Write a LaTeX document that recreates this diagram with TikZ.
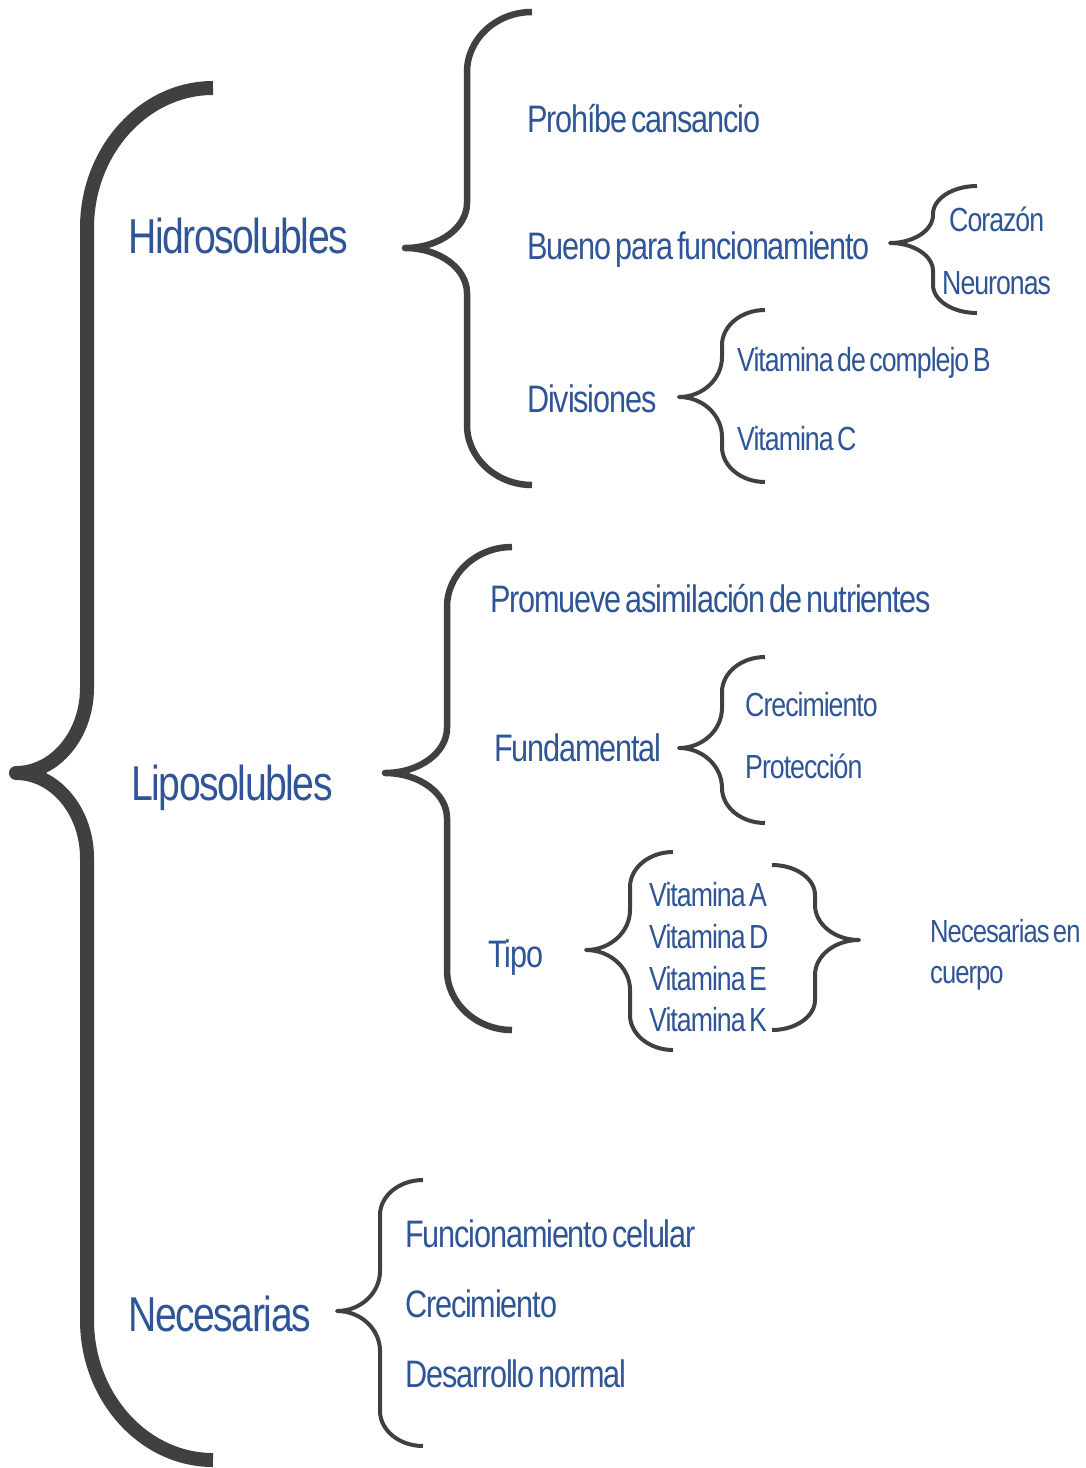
\documentclass[tikz,border=0pt]{standalone}
\usepackage{fontspec}
\setmainfont{Liberation Sans}[FakeStretch=0.8, LetterSpace=-3, WordSpace=0.55]
\definecolor{txtblue}{HTML}{2F5597}
\definecolor{bracegray}{HTML}{404040}
\tikzset{
  lone/.style={font=\fontsize{49}{58}\selectfont, text=txtblue, anchor=base west, inner sep=0pt},
  ltwo/.style={font=\fontsize{38.3}{46}\selectfont, text=txtblue, anchor=base west, inner sep=0pt},
  lthree/.style={font=\fontsize{33.4}{40}\selectfont, text=txtblue, anchor=base west, inner sep=0pt},
  bracestroke/.style={draw=bracegray, line cap=butt, line join=round}
}
% #1 width, #2 xend, #3 xv, #4 xtip, #5 ytop, #6 ymid, #7 ybot, #8 end radius, #9 mid radius
\newcommand\drawmybrace[9]{%
  \draw[bracestroke, line width=#1pt] (#2,#5)
    .. controls ({#2-0.55*(#2-#3)},#5) and (#3,{#5+0.45*#8}) .. (#3,{#5+#8})
    -- (#3,{#6-#9})
    .. controls (#3,{#6-0.45*#9}) and ({#4+0.55*(#3-#4)},#6) .. (#4,#6)
    .. controls ({#4+0.55*(#3-#4)},#6) and (#3,{#6+0.45*#9}) .. (#3,{#6+#9})
    -- (#3,{#7-#8})
    .. controls (#3,{#7-0.45*#8}) and ({#2-0.55*(#2-#3)},#7) .. (#2,#7);
}
\begin{document}
\begin{tikzpicture}[x=1pt, y=-1pt]
\useasboundingbox[fill=white] (0,0) rectangle (1086,1468);

% braces
\drawmybrace{14}{213}{87}{16}{88}{773}{1460}{140}{85}
\drawmybrace{6.5}{532}{467}{405}{12}{248}{485}{60}{45}
\drawmybrace{4}{977}{933}{890}{186}{243}{313}{28}{28}
\drawmybrace{4}{765}{722}{679}{310}{397}{482}{35}{40}
\drawmybrace{6.5}{512}{447}{385}{547}{773}{1030}{60}{45}
\drawmybrace{4}{765}{722}{679}{657}{748}{823}{35}{40}
\drawmybrace{4}{673}{630}{586}{852}{950}{1050}{35}{40}
\drawmybrace{4}{772}{815}{859}{865}{940}{1030}{30}{35}
\drawmybrace{4}{423}{380}{337}{1180}{1311}{1446}{35}{40}

% level 1
\node[lone] (hidro) at (128,253) {Hidrosolubles};
\node[lone] (lipo) at (131,800) {Liposolubles};
\node[lone] (nec) at (128,1331) {Necesarias};

% hidrosolubles
\node[ltwo] (prohibe) at (527,132) {Prohíbe cansancio};
\node[ltwo] (bueno) at (527,259) {Bueno para funcionamiento};
\node[ltwo] (divis) at (527,412) {Divisiones};
\node[lthree] (corazon) at (949,231) {Corazón};
\node[lthree] (neuronas) at (942,294) {Neuronas};
\node[lthree] (vitb) at (737,371) {Vitamina de complejo B};
\node[lthree] (vitc) at (737,450) {Vitamina C};

% liposolubles
\node[ltwo] (promueve) at (490,612) {Promueve asimilación de nutrientes};
\node[ltwo] (fund) at (494,761) {Fundamental};
\node[ltwo] (tipo) at (488,967) {Tipo};
\node[lthree] (crec) at (745,716) {Crecimiento};
\node[lthree] (prot) at (745,778) {Protección};
\node[lthree] (vita) at (649,906) {Vitamina A};
\node[lthree] (vitd) at (649,948) {Vitamina D};
\node[lthree] (vite) at (649,990) {Vitamina E};
\node[lthree] (vitk) at (649,1031) {Vitamina K};
\node[lthree, font=\fontsize{32}{38}\selectfont] (necen) at (930,942) {Necesarias en};
\node[lthree, font=\fontsize{32}{38}\selectfont] (cuerpo) at (930,983) {cuerpo};

% necesarias
\node[ltwo] (funcel) at (405,1247) {Funcionamiento celular};
\node[ltwo] (crec2) at (405,1317) {Crecimiento};
\node[ltwo] (desa) at (405,1387) {Desarrollo normal};
\end{tikzpicture}
\end{document}
